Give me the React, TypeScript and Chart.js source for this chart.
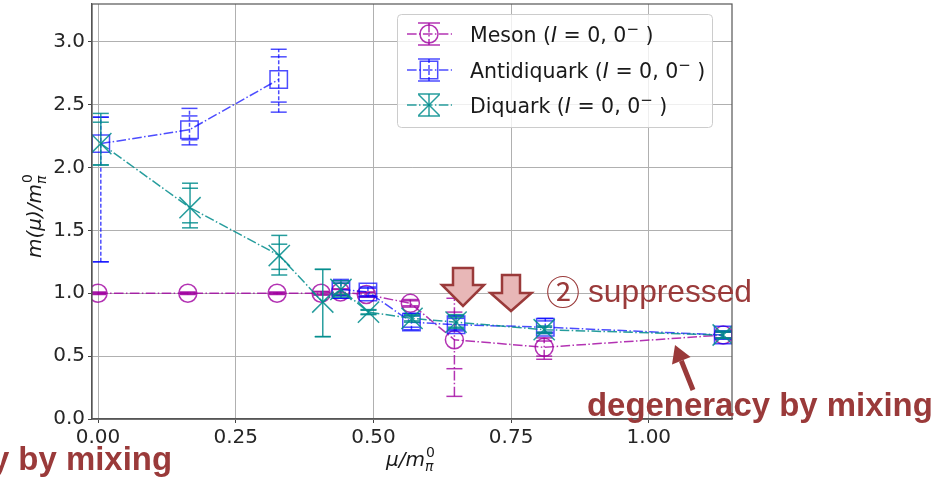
import React, { useEffect, useRef } from 'react';
import { Chart, registerables } from 'chart.js';
Chart.register(...registerables);

const xTicks = [0, 0.25, 0.5, 0.75, 1.0];
const xTickLabels = ['0.00', '0.25', '0.50', '0.75', '1.00'];
const yTicks = [0, 0.5, 1.0, 1.5, 2.0, 2.5, 3.0];
const yTickLabels = ['0.0', '0.5', '1.0', '1.5', '2.0', '2.5', '3.0'];

const seriesNames = ['Meson', 'Antidiquark', 'Diquark'];

const mesonX = [0, 0.163, 0.325, 0.405, 0.44, 0.487, 0.567, 0.647, 0.81, 1.135];
const mesonY = [1.0, 1.0, 1.0, 1.0, 1.01, 0.99, 0.92, 0.63, 0.57, 0.668];
const mesonLoIn = [0.995, 0.995, 0.995, 0.99, 0.99, 0.975, 0.9, 0.4, 0.5, 0.645];
const mesonHiIn = [1.005, 1.005, 1.005, 1.01, 1.03, 1.005, 0.94, 0.85, 0.62, 0.69];
const mesonLoOut = [0.99, 0.99, 0.99, 0.985, 0.985, 0.97, 0.89, 0.18, 0.475, 0.64];
const mesonHiOut = [1.01, 1.01, 1.01, 1.015, 1.035, 1.01, 0.95, 0.96, 0.645, 0.695];

const antiX = [0.005, 0.166, 0.328, 0.441, 0.49, 0.569, 0.65, 0.812, 1.135];
const antiY = [2.19, 2.3, 2.7, 1.03, 1.01, 0.77, 0.75, 0.73, 0.668];
const antiLoIn = [1.25, 2.22, 2.52, 0.98, 0.98, 0.73, 0.71, 0.69, 0.64];
const antiHiIn = [2.4, 2.41, 2.88, 1.08, 1.04, 0.82, 0.8, 0.78, 0.695];
const antiLoOut = [1.25, 2.18, 2.44, 0.96, 0.97, 0.71, 0.7, 0.68, 0.635];
const antiHiOut = [2.4, 2.47, 2.94, 1.11, 1.05, 0.84, 0.82, 0.8, 0.7];
// line segments (starting at these point indices) that are not drawn
const antiLineGaps = [2];

const diqX = [0.005, 0.167, 0.329, 0.408, 0.441, 0.491, 0.57, 0.65, 0.81, 1.135];
const diqY = [2.19, 1.68, 1.3, 0.93, 1.03, 0.85, 0.8, 0.77, 0.71, 0.668];
const diqLoIn = [2.02, 1.56, 1.19, 0.655, 0.99, 0.835, 0.78, 0.73, 0.69, 0.645];
const diqHiIn = [2.36, 1.835, 1.39, 1.19, 1.08, 0.865, 0.82, 0.81, 0.73, 0.69];
const diqLoOut = [2.02, 1.52, 1.145, 0.655, 0.97, 0.83, 0.77, 0.72, 0.68, 0.64];
const diqHiOut = [2.43, 1.875, 1.46, 1.19, 1.1, 0.87, 0.83, 0.83, 0.74, 0.7];

const MESON_C = 'rgba(160,0,160,0.8)';
const ANTI_C = 'rgba(0,0,255,0.7)';
const DIQ_C = 'rgba(0,140,140,0.85)';
const RED = '#9a3a3a';
const DASHDOT = [9.6, 2.4, 1.5, 2.4];

const buildErr = (lo: number[], hi: number[], lo2: number[], hi2: number[]) =>
  lo.map((v, i) => [v, hi[i], lo2[i], hi2[i]]);

const errorBarPlugin = {
  id: 'errbars',
  beforeDatasetDraw(chart: any, args: any) {
    const ds = chart.data.datasets[args.index];
    const errs = ds.errs as number[][];
    if (!errs) return;
    const { ctx, chartArea } = chart;
    const xs = chart.scales.x, ys = chart.scales.y;
    ctx.save();
    ctx.beginPath();
    ctx.rect(chartArea.left, chartArea.top, chartArea.right - chartArea.left, chartArea.bottom - chartArea.top);
    ctx.clip();
    ctx.strokeStyle = ds.borderColor;
    ctx.lineWidth = 1.5;
    ds.data.forEach((p: any, i: number) => {
      const px = xs.getPixelForValue(p.x);
      const e = errs[i];
      const yLo = ys.getPixelForValue(Math.min(e[0], e[2]));
      const yHi = ys.getPixelForValue(Math.max(e[1], e[3]));
      ctx.setLineDash(ds.errDash);
      ctx.beginPath();
      ctx.moveTo(px, yLo);
      ctx.lineTo(px, yHi);
      ctx.stroke();
      ctx.setLineDash([]);
      for (const v of e) {
        const py = ys.getPixelForValue(v);
        ctx.beginPath();
        ctx.moveTo(px - 8, py);
        ctx.lineTo(px + 8, py);
        ctx.stroke();
      }
    });
    ctx.restore();
  },
};

function drawMarker(ctx: CanvasRenderingContext2D, kind: string, x: number, y: number) {
  ctx.beginPath();
  if (kind === 'circle') {
    ctx.arc(x, y, 9, 0, Math.PI * 2);
  } else if (kind === 'rect') {
    ctx.rect(x - 8.7, y - 8.7, 17.4, 17.4);
  } else {
    ctx.moveTo(x - 10.5, y - 10.5);
    ctx.lineTo(x + 10.5, y + 10.5);
    ctx.moveTo(x + 10.5, y - 10.5);
    ctx.lineTo(x - 10.5, y + 10.5);
  }
  ctx.stroke();
}

function drawDownArrow(ctx: CanvasRenderingContext2D, cx: number, top: number, sh: number, hh: number, hs: number, tip: number) {
  ctx.beginPath();
  ctx.moveTo(cx - sh, top);
  ctx.lineTo(cx + sh, top);
  ctx.lineTo(cx + sh, hs);
  ctx.lineTo(cx + hh, hs);
  ctx.lineTo(cx, tip);
  ctx.lineTo(cx - hh, hs);
  ctx.lineTo(cx - sh, hs);
  ctx.closePath();
  ctx.fillStyle = '#e8b7b7';
  ctx.fill();
  ctx.strokeStyle = RED;
  ctx.lineWidth = 2.5;
  ctx.lineJoin = 'miter';
  ctx.stroke();
}

function fitFont(ctx: CanvasRenderingContext2D, text: string, prefix: string, family: string, target: number, base: number) {
  ctx.font = `${prefix}${base}px ${family}`;
  const w = ctx.measureText(text).width;
  const size = base * target / w;
  return `${prefix}${size.toFixed(2)}px ${family}`;
}

const overlayPlugin = {
  id: 'overlay',
  afterDraw(chart: any) {
    const { ctx, chartArea } = chart;
    ctx.save();
    // spines
    ctx.strokeStyle = '#555';
    ctx.lineWidth = 1.2;
    ctx.setLineDash([]);
    ctx.strokeRect(chartArea.left, chartArea.top, chartArea.right - chartArea.left, chartArea.bottom - chartArea.top);

    // legend
    ctx.beginPath();
    (ctx as any).roundRect(397.5, 14.5, 315, 113, 4);
    ctx.fillStyle = 'rgba(255,255,255,0.8)';
    ctx.fill();
    ctx.strokeStyle = '#cccccc';
    ctx.lineWidth = 1;
    ctx.stroke();
    const rows = [34, 70, 105];
    const cols = [MESON_C, ANTI_C, DIQ_C];
    const kinds = ['circle', 'rect', 'cross'];
    const edash = [DASHDOT, [4, 2], []];
    rows.forEach((ry, i) => {
      ctx.strokeStyle = cols[i];
      ctx.lineWidth = 1.5;
      ctx.setLineDash(DASHDOT);
      ctx.beginPath();
      ctx.moveTo(407, ry);
      ctx.lineTo(452, ry);
      ctx.stroke();
      ctx.setLineDash(edash[i]);
      ctx.beginPath();
      ctx.moveTo(429, ry - 11);
      ctx.lineTo(429, ry + 11);
      ctx.stroke();
      ctx.setLineDash([]);
      for (const d of [-11, 11]) {
        ctx.beginPath();
        ctx.moveTo(418, ry + d);
        ctx.lineTo(440, ry + d);
        ctx.stroke();
      }
      drawMarker(ctx, kinds[i], 429, ry);
      ctx.fillStyle = '#1a1a1a';
      ctx.textBaseline = 'alphabetic';
      ctx.textAlign = 'left';
      let x = 470;
      const by = ry + 7.5;
      const segs: [string, string, number][] = [
        [seriesNames[i] + ' (', '20.5px "DejaVu Sans"', 0],
        ['I', 'italic 20.5px "DejaVu Sans"', 0],
        [' = 0, 0', '20.5px "DejaVu Sans"', 0],
        ['\u2212', '15px "DejaVu Sans"', -8],
        [' )', '20.5px "DejaVu Sans"', 0],
      ];
      for (const [t, f, dy] of segs) {
        ctx.font = f;
        ctx.fillText(t, x, by + dy);
        x += ctx.measureText(t).width;
      }
    });

    // axis titles
    ctx.fillStyle = '#1a1a1a';
    ctx.textAlign = 'left';
    ctx.textBaseline = 'alphabetic';
    const drawTitle = (main: string, x0: number, y0: number) => {
      ctx.font = 'italic 20px "DejaVu Sans"';
      ctx.fillText(main, x0, y0);
      const w = ctx.measureText(main).width;
      ctx.font = '14px "DejaVu Sans"';
      ctx.fillText('0', x0 + w + 1, y0 - 9);
      ctx.font = 'italic 14px "DejaVu Sans"';
      ctx.fillText('\u03c0', x0 + w, y0 + 5);
    };
    drawTitle('\u03bc/m', 386, 466);
    ctx.save();
    ctx.translate(41, 258);
    ctx.rotate(-Math.PI / 2);
    drawTitle('m(\u03bc)/m', 0, 0);
    ctx.restore();

    // annotations
    drawDownArrow(ctx, 463, 268, 10, 21, 285, 306);
    drawDownArrow(ctx, 511, 275, 9, 20.5, 293, 311);

    ctx.fillStyle = RED;
    ctx.textAlign = 'left';
    ctx.textBaseline = 'alphabetic';
    const fam = '"Liberation Sans", Arial, sans-serif';
    ctx.font = fitFont(ctx, 'suppressed', '', fam, 164, 32);
    ctx.fillText('suppressed', 588, 302);
    ctx.font = '34px "Noto Sans CJK JP"';
    ctx.textAlign = 'center';
    ctx.textBaseline = 'middle';
    ctx.fillText('\u2461', 563, 292);

    ctx.textBaseline = 'alphabetic';
    ctx.textAlign = 'left';
    const deg = 'degeneracy by mixing';
    ctx.font = fitFont(ctx, deg, 'bold ', fam, 346, 33);
    ctx.fillText(deg, 587, 416);
    ctx.textAlign = 'right';
    ctx.fillText(deg, 172, 470);

    // dark red arrow
    const tail = [693, 390], tip = [675, 345];
    const dx = tip[0] - tail[0], dy = tip[1] - tail[1];
    const L = Math.hypot(dx, dy);
    const ux = dx / L, uy = dy / L;
    const bx = tip[0] - ux * 17, byy = tip[1] - uy * 17;
    ctx.strokeStyle = RED;
    ctx.lineWidth = 5;
    ctx.lineCap = 'butt';
    ctx.beginPath();
    ctx.moveTo(tail[0], tail[1]);
    ctx.lineTo(bx, byy);
    ctx.stroke();
    ctx.beginPath();
    ctx.moveTo(tip[0], tip[1]);
    ctx.lineTo(bx - uy * 10, byy + ux * 10);
    ctx.lineTo(bx + uy * 10, byy - ux * 10);
    ctx.closePath();
    ctx.fillStyle = RED;
    ctx.fill();
    ctx.restore();
  },
};

export default function App() {
  const ref = useRef<HTMLCanvasElement>(null);
  useEffect(() => {
    document.body.style.margin = '0';
    const mk = (xs: number[], ys: number[]) => xs.map((x, i) => ({ x, y: ys[i] }));
    const chart = new Chart(ref.current!, {
      type: 'scatter',
      data: {
        datasets: [
          {
            label: seriesNames[0],
            data: mk(mesonX, mesonY),
            errs: buildErr(mesonLoIn, mesonHiIn, mesonLoOut, mesonHiOut),
            errDash: DASHDOT,
            showLine: true,
            borderColor: MESON_C,
            borderWidth: 1.5,
            borderDash: DASHDOT,
            pointStyle: 'circle',
            pointRadius: 9,
            pointBorderColor: MESON_C,
            pointBackgroundColor: 'rgba(0,0,0,0)',
            pointBorderWidth: 1.5,
            order: 3,
          } as any,
          {
            label: seriesNames[1],
            data: mk(antiX, antiY),
            errs: buildErr(antiLoIn, antiHiIn, antiLoOut, antiHiOut),
            errDash: [4, 2],
            showLine: true,
            borderColor: ANTI_C,
            borderWidth: 1.5,
            borderDash: DASHDOT,
            segment: {
              borderColor: (c: any) => (antiLineGaps.includes(c.p0DataIndex) ? 'rgba(0,0,0,0)' : undefined),
            },
            pointStyle: 'rect',
            pointRadius: 12.3,
            pointBorderColor: ANTI_C,
            pointBackgroundColor: 'rgba(0,0,0,0)',
            pointBorderWidth: 1.5,
            order: 2,
          } as any,
          {
            label: seriesNames[2],
            data: mk(diqX, diqY),
            errs: buildErr(diqLoIn, diqHiIn, diqLoOut, diqHiOut),
            errDash: [],
            showLine: true,
            borderColor: DIQ_C,
            borderWidth: 1.5,
            borderDash: DASHDOT,
            pointStyle: 'crossRot',
            pointRadius: 15,
            pointBorderColor: DIQ_C,
            pointBackgroundColor: 'rgba(0,0,0,0)',
            pointBorderWidth: 1.5,
            order: 1,
          } as any,
        ],
      },
      options: {
        responsive: false,
        animation: false,
        devicePixelRatio: 1,
        layout: { autoPadding: false, padding: { left: 0, right: 212, top: 4, bottom: 0 } },
        plugins: { legend: { display: false }, tooltip: { enabled: false } },
        scales: {
          x: {
            type: 'linear',
            min: -0.011,
            max: 1.151,
            afterBuildTicks: (s: any) => { s.ticks = xTicks.map((v) => ({ value: v })); },
            afterFit: (s: any) => { s.height = 61; s.paddingLeft = 0; s.paddingRight = 0; },
            ticks: {
              callback: (_v: any, i: number) => xTickLabels[i],
              font: { family: 'DejaVu Sans', size: 20 },
              color: '#262626',
              padding: 3,
              maxRotation: 0,
              autoSkip: false,
            },
            grid: { color: '#b0b0b0', lineWidth: 1, tickLength: 4, tickColor: '#444' },
            border: { color: '#555', width: 1.2 },
          },
          y: {
            type: 'linear',
            min: 0,
            max: 3.3,
            afterBuildTicks: (s: any) => { s.ticks = yTicks.map((v) => ({ value: v })); },
            afterFit: (s: any) => { s.width = 92; s.paddingTop = 0; s.paddingBottom = 0; },
            ticks: {
              callback: (_v: any, i: number) => yTickLabels[i],
              font: { family: 'DejaVu Sans', size: 20 },
              color: '#262626',
              padding: 3,
              autoSkip: false,
            },
            grid: { color: '#b0b0b0', lineWidth: 1, tickLength: 4, tickColor: '#444' },
            border: { color: '#555', width: 1.2 },
          },
        },
      },
      plugins: [errorBarPlugin, overlayPlugin],
    } as any);
    return () => chart.destroy();
  }, []);
  return (
    <div style={{ width: 944, height: 480 }}>
      <canvas ref={ref} width={944} height={480} style={{ display: 'block' }} />
    </div>
  );
}
